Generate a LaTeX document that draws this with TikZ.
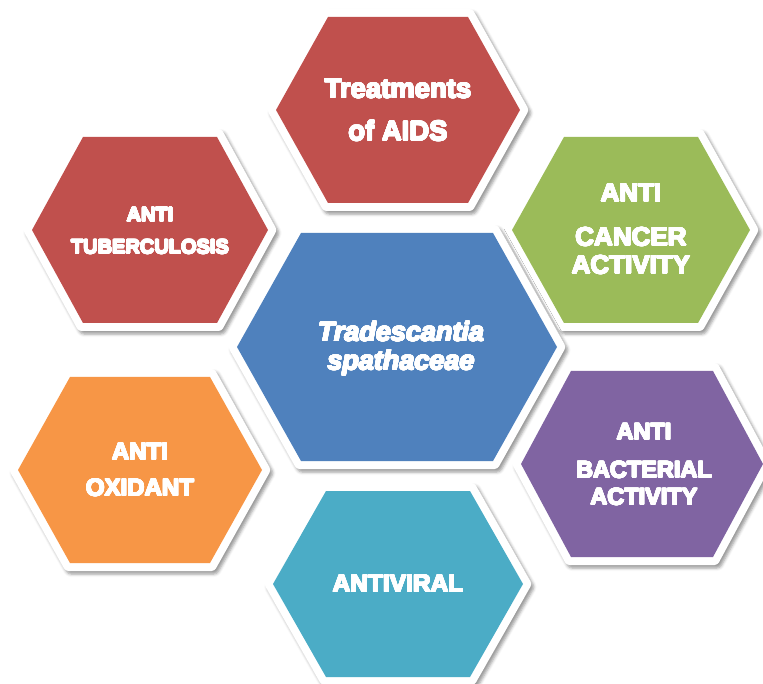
\documentclass[tikz,border=0pt]{standalone}
\usepackage{fontspec}
\setmainfont{Liberation Sans}
\newfontfamily\heavy{Liberation Sans}
\usepackage{contour}
\contournumber{24}
\contourlength{0.6pt}
\usetikzlibrary{shadows.blur}

\definecolor{cellred}{HTML}{C0504D}
\definecolor{cellgreen}{HTML}{9BBB59}
\definecolor{cellblue}{HTML}{4F81BD}
\definecolor{cellpurple}{HTML}{8064A2}
\definecolor{cellaqua}{HTML}{4BACC6}
\definecolor{cellorange}{HTML}{F79646}

% hexagonal cell: #1 centre x, #2 centre y, #3 half width, #4 half height,
% #5 half length of the flat top edge, #6 fill colour
\newcommand\hexcell[6]{%
  \begin{scope}[shift={(#1,#2)}]
    \fill[white, rounded corners=3,
          blur shadow={shadow xshift=2.5pt, shadow yshift=-3pt,
                       shadow blur radius=3pt, shadow opacity=40}]
      (-#3-9,0) -- (-#5-4.5,-#4-8) -- (#5+4.5,-#4-8) -- (#3+9,0)
      -- (#5+4.5,#4+8) -- (-#5-4.5,#4+8) -- cycle;
    \fill[#6] (-#3,0) -- (-#5,-#4) -- (#5,-#4) -- (#3,0)
      -- (#5,#4) -- (-#5,#4) -- cycle;
  \end{scope}}

% heavy white lettering: bold face thickened by a white contour
\newcommand\heavytext[1]{\contour{white}{#1}}

\tikzset{
  lbl/.style={text=white, inner sep=0pt, anchor=center,
    font=\heavy\bfseries\fontsize{#1}{#1}\selectfont},
  lbl/.default=24,
  lblit/.style={text=white, inner sep=0pt, anchor=center,
    font=\heavy\bfseries\itshape\fontsize{#1}{#1}\selectfont},
  lblit/.default=26
}

\begin{document}
\begin{tikzpicture}[x=1pt, y=-1pt]
  \useasboundingbox (0,0) rectangle (763,684);

  % cells
  \hexcell{398}{110}{122}{93}{70}{cellred}
  \hexcell{150}{230}{118}{93}{67}{cellred}
  \hexcell{631}{230}{119}{93}{67}{cellgreen}
  \hexcell{140}{470}{122}{93}{70}{cellorange}
  \hexcell{642}{464}{121}{93}{71}{cellpurple}
  \hexcell{398}{584}{125}{93}{72}{cellaqua}
  \hexcell{397}{347}{160}{114}{96}{cellblue}

  % labels
  \node[lbl=27.5] (aids1) at (398,89)  {\heavytext{Treatments}};
  \node[lbl=27.5] (aids2) at (398,131) {\heavytext{of AIDS}};

  \node[lbl=20] (tb1) at (150,215) {\heavytext{ANTI}};
  \node[lbl=20] (tb2) at (150,247) {\heavytext{TUBERCULOSIS}};

  \node[lbl=26] (ca1) at (631,193) {\heavytext{ANTI}};
  \node[lbl=26] (ca2) at (631,237) {\heavytext{CANCER}};
  \node[lbl=26] (ca3) at (631,265) {\heavytext{ACTIVITY}};

  \node[lbl=24] (ox1) at (140,452) {\heavytext{ANTI}};
  \node[lbl=24] (ox2) at (140,488) {\heavytext{OXIDANT}};

  \node[lbl=23.5] (ba1) at (644,432) {\heavytext{ANTI}};
  \node[lbl=23.5] (ba2) at (644,470) {\heavytext{BACTERIAL}};
  \node[lbl=23.5] (ba3) at (644,497) {\heavytext{ACTIVITY}};

  \node[lbl=24.5] (av) at (398,584) {\heavytext{ANTIVIRAL}};

  \node[lblit=27] (ts1) at (401,332) {\heavytext{Tradescantia}};
  \node[lblit=27] (ts2) at (401,363) {\heavytext{spathaceae}};
\end{tikzpicture}
\end{document}
